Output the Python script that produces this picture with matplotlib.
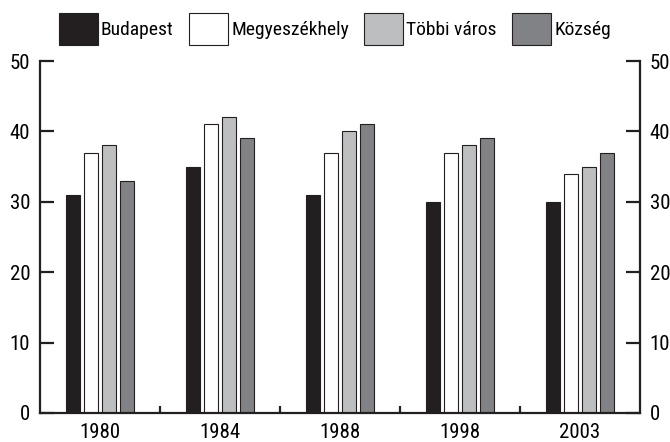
import numpy as np
import matplotlib
matplotlib.use("Agg")
import matplotlib.pyplot as plt

plt.rcParams['font.family'] = ['Roboto Condensed', 'DejaVu Sans']

years = ['1980', '1984', '1988', '1998', '2003']
series = ['Budapest', 'Megyeszékhely', 'Többi város', 'Község']
budapest = [31, 35, 31, 30, 30]
megyeszekhely = [37, 41, 37, 37, 34]
tobbi_varos = [38, 42, 40, 38, 35]
kozseg = [33, 39, 41, 39, 37]
colors = ['#231f20', '#ffffff', '#bcbec0', '#808285']

fig = plt.figure(figsize=(6.7, 4.42), dpi=100)
ax = fig.add_axes([40/670, 1 - 413/442, 600/670, 352/442])

x = np.arange(len(years))
pitch = 0.15
width = 0.113
for i, (vals, name, c) in enumerate(zip([budapest, megyeszekhely, tobbi_varos, kozseg], series, colors)):
    ax.bar(x + (i - 1.5) * pitch, vals, width, color=c, edgecolor='#231f20',
           linewidth=0.8, label=name, zorder=2)

ax.set_xlim(-0.5, 4.5)
ax.set_ylim(0, 50)
ax.set_yticks([0, 10, 20, 30, 40, 50])
ax.set_xticks(x)
ax.set_xticklabels(years)
ax.set_xticks(x[:-1] + 0.5, minor=True)

for s in ['left', 'right', 'bottom']:
    ax.spines[s].set_linewidth(1.6)
    ax.spines[s].set_color('#231f20')
ax.spines['top'].set_visible(False)

ax.tick_params(axis='y', direction='in', length=10, width=1.6, color='#231f20',
               labelsize=15, pad=7, left=True, right=True, labelleft=True, labelright=True)
ax.tick_params(axis='x', which='major', length=0, labelsize=15, pad=7)
ax.tick_params(axis='x', which='minor', direction='in', length=5, width=1.6, color='#231f20')

handles, labels = ax.get_legend_handles_labels()
fig.legend(handles, labels, loc='center', bbox_to_anchor=(0.5, 1 - 29/442), ncol=4,
           frameon=False, fontsize=14, handlelength=2.0, handleheight=2.15,
           handletextpad=0.15, columnspacing=0.8, borderpad=0)

fig.savefig('out.png', dpi=100)
